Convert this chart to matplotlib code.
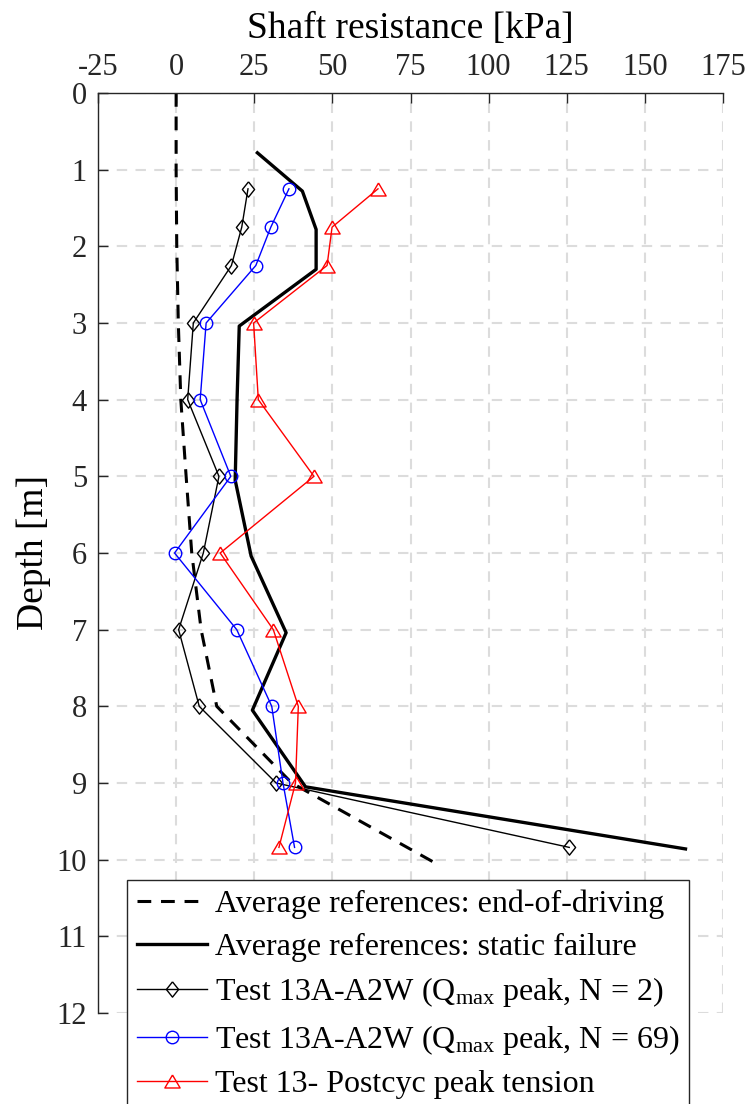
import matplotlib
matplotlib.use('Agg')
from matplotlib import pyplot as plt

# Depth profiles of shaft resistance
depth_eod = [0, 1, 2, 3, 4, 5, 6, 7, 8, 9, 10.08]
eod = [0, 0, 0.2, 0.7, 1.5, 3.2, 5, 8, 13, 37, 84.5]

depth_static = [0.78, 1.28, 1.78, 2.3, 3.04, 4, 5.05, 6.04, 7.04, 8.05, 9.05, 9.86]
static = [26, 40.4, 44.8, 44.8, 20.2, 19.5, 18.9, 24, 35.2, 24.4, 41.4, 163]

depth_test = [1.25, 1.75, 2.25, 3, 4, 5, 6, 7, 8, 9, 9.84]
qmax_n2 = [23, 21, 17.7, 5.5, 3.7, 13.7, 8.7, 0.8, 7.4, 32, 125.8]
qmax_n69 = [36.1, 30.3, 25.5, 9.6, 7.7, 17.5, -0.5, 19.4, 30.6, 34.2, 37.9]
postcyc = [64.6, 49.9, 48.3, 24.8, 26.3, 44.1, 14.1, 31.1, 39.1, 38.2, 32.9]

xticks = [-25, 0, 25, 50, 75, 100, 125, 150, 175]
yticks = list(range(0, 13))

# MATLAB-like markers (diamond a bit narrower than tall, squat triangle)
diamond = [(0, 1), (0.8, 0), (0, -1), (-0.8, 0), (0, 1)]
triangle = [(0, 0.85), (1, -0.85), (-1, -0.85), (0, 0.85)]

plt.rcParams['font.family'] = ['Liberation Serif', 'DejaVu Serif']
plt.rcParams['mathtext.fontset'] = 'custom'
plt.rcParams['mathtext.rm'] = 'Liberation Serif'
plt.rcParams['mathtext.it'] = 'Liberation Serif:italic'
plt.rcParams['axes.unicode_minus'] = False

fig = plt.figure(figsize=(7.5, 11.04), dpi=100)
ax = fig.add_axes([98 / 750, 1 - 1013 / 1104, 625 / 750, (1013 - 93) / 1104])

ax.plot(eod, depth_eod, color='black', linestyle=(0, (4.5, 3.2)), linewidth=2.2,
        label='Average references: end-of-driving')
ax.plot(static, depth_static, color='black', linewidth=2.4,
        label='Average references: static failure')
ax.plot(qmax_n2, depth_test, color='black', linewidth=1.0, marker=diamond, markersize=11,
        markerfacecolor='none', markeredgewidth=1.0,
        label=r'Test 13A-A2W (Q$_{\rm max}$ peak, N = 2)')
ax.plot(qmax_n69, depth_test, color='blue', linewidth=1.0, marker='o', markersize=9,
        markerfacecolor='none', markeredgewidth=1.0,
        label=r'Test 13A-A2W (Q$_{\rm max}$ peak, N = 69)')
ax.plot(postcyc, depth_test, color='red', linewidth=1.0, marker=triangle, markersize=11,
        markerfacecolor='none', markeredgewidth=1.0,
        label='Test 13- Postcyc peak tension')

ax.set_xlim(-25, 175)
ax.set_ylim(12, 0)
ax.set_xticks(xticks)
ax.set_yticks(yticks)
ax.xaxis.tick_top()
ax.xaxis.set_label_position('top')
ax.tick_params(direction='in', length=7, width=1.0, colors='#262626', labelsize=22,
               top=True, bottom=False, left=True, right=False, pad=8)
ax.grid(True, color='#dcdcdc', linestyle=(0, (5, 4)), linewidth=1.5)
ax.set_axisbelow(True)
for side in ['right', 'bottom']:
    ax.spines[side].set_visible(False)
for side in ['left', 'top']:
    ax.spines[side].set_color('#262626')
    ax.spines[side].set_linewidth(1.0)

ax.set_xlabel('Shaft resistance [kPa]', fontsize=27, labelpad=11)
ax.set_ylabel('Depth [m]', fontsize=27, labelpad=4)

leg = ax.legend(loc='upper left', bbox_to_anchor=(127 / 750, 1 - 880 / 1104),
                bbox_transform=fig.transFigure, fontsize=23, frameon=True,
                fancybox=False, framealpha=1, edgecolor='#262626',
                handlelength=2.2, handletextpad=0.25, labelspacing=0.42,
                borderpad=0.3, borderaxespad=0)
leg.get_frame().set_linewidth(1.0)

fig.savefig('out.png', dpi=100)
